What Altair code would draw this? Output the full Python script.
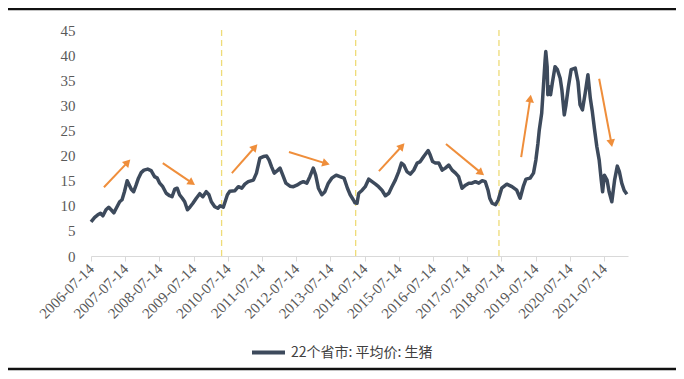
import math
import altair as alt
import pandas as pd

# ---------------- data ----------------
years = [
    2006.532, 2006.64, 2006.73, 2006.81, 2006.88, 2006.97, 2007.05, 2007.12, 2007.20, 2007.27,
    2007.37, 2007.44, 2007.51, 2007.59, 2007.64, 2007.71, 2007.78, 2007.85, 2007.92, 2008.00,
    2008.08, 2008.19, 2008.29, 2008.39, 2008.47, 2008.54, 2008.63, 2008.73, 2008.83, 2008.90,
    2008.98, 2009.05, 2009.12, 2009.20, 2009.27, 2009.35, 2009.42, 2009.51, 2009.61, 2009.71,
    2009.80, 2009.90, 2009.98, 2010.05, 2010.15, 2010.24, 2010.31, 2010.40, 2010.52, 2010.59,
    2010.74, 2010.84, 2010.94, 2011.03, 2011.13, 2011.28, 2011.37, 2011.47, 2011.57, 2011.67,
    2011.74, 2011.81, 2011.89, 2011.98, 2012.06, 2012.14, 2012.23, 2012.35, 2012.45, 2012.55,
    2012.64, 2012.74, 2012.84, 2012.93, 2013.03, 2013.10, 2013.18, 2013.28, 2013.37, 2013.47,
    2013.57, 2013.70, 2013.81, 2013.93, 2014.03, 2014.11, 2014.20, 2014.25, 2014.31, 2014.36,
    2014.46, 2014.55, 2014.65, 2014.75, 2014.85, 2014.94, 2015.04, 2015.14, 2015.24, 2015.33,
    2015.43, 2015.53, 2015.61, 2015.68, 2015.77, 2015.87, 2015.97, 2016.07, 2016.16, 2016.26,
    2016.39, 2016.45, 2016.52, 2016.60, 2016.70, 2016.80, 2016.89, 2016.99, 2017.09, 2017.19,
    2017.28, 2017.38, 2017.48, 2017.58, 2017.67, 2017.77, 2017.87, 2017.97, 2018.06, 2018.14,
    2018.19, 2018.26, 2018.36, 2018.44, 2018.54, 2018.69, 2018.84, 2018.98, 2019.08, 2019.17,
    2019.25, 2019.37, 2019.47, 2019.54, 2019.60, 2019.64, 2019.71, 2019.76, 2019.81, 2019.83,
    2019.87, 2019.89, 2019.93, 2019.97, 2020.02, 2020.10, 2020.17, 2020.25, 2020.30, 2020.37,
    2020.42, 2020.49, 2020.57, 2020.69, 2020.77, 2020.83, 2020.90, 2020.98, 2021.06, 2021.13,
    2021.19, 2021.25, 2021.32, 2021.39, 2021.45, 2021.49, 2021.54, 2021.62, 2021.68, 2021.76,
    2021.84, 2021.92, 2021.98, 2022.05, 2022.12, 2022.20,
]
prices = [
    6.8, 7.7, 8.2, 8.5, 8.0, 9.2, 9.7, 9.2, 8.6, 9.5,
    10.8, 11.2, 12.8, 15.0, 14.3, 13.3, 12.8, 14.1, 15.5, 16.6,
    17.1, 17.3, 17.0, 15.8, 15.5, 14.5, 13.8, 12.5, 12.0, 11.8,
    13.3, 13.5, 12.2, 11.5, 10.8, 9.2, 9.7, 10.5, 11.5, 12.4,
    11.8, 12.8, 12.2, 10.8, 9.8, 9.5, 10.0, 9.7, 12.2, 12.9,
    13.0, 13.8, 13.5, 14.3, 14.8, 15.1, 16.5, 19.5, 19.8, 19.9,
    19.1, 17.8, 16.5, 17.0, 17.5, 16.1, 14.5, 13.9, 13.8, 14.1,
    14.5, 14.8, 14.5, 15.8, 17.5, 16.1, 13.5, 12.2, 12.8, 14.5,
    15.5, 16.1, 15.8, 15.5, 13.5, 12.2, 11.2, 10.6, 10.5, 12.5,
    13.1, 13.8, 15.3, 14.8, 14.3, 13.8, 13.1, 12.0, 12.5, 13.8,
    15.1, 16.8, 18.5, 18.1, 16.8, 16.3, 17.1, 18.5, 18.8, 19.8,
    21.0, 20.1, 18.8, 18.5, 18.5, 17.1, 17.5, 18.1, 17.1, 16.5,
    15.8, 13.5, 14.1, 14.5, 14.5, 14.8, 14.5, 15.0, 14.8, 13.1,
    11.5, 10.5, 10.2, 11.2, 13.5, 14.3, 13.8, 13.1, 11.5, 13.8,
    15.3, 15.5, 16.5, 19.1, 22.4, 25.1, 28.4, 33.7, 39.0, 40.7,
    37.7, 32.1, 33.7, 32.1, 34.4, 37.7, 37.1, 35.4, 33.1, 28.1,
    30.1, 33.7, 37.1, 37.4, 34.7, 30.1, 29.1, 32.4, 36.1, 31.4,
    28.7, 25.4, 21.8, 19.1, 15.1, 12.8, 16.1, 15.1, 12.8, 10.8,
    15.1, 17.9, 16.8, 14.5, 13.1, 12.3,
]
series_name = "22个省市: 平均价: 生猪"

divider_years = [2010.35, 2014.27, 2018.46]

arrow_start_years = [2006.91, 2008.63, 2010.65, 2012.32, 2014.95, 2016.91, 2019.11, 2021.39]
arrow_start_values = [13.7, 18.5, 16.5, 20.7, 16.9, 22.3, 19.7, 35.3]
arrow_end_years = [2007.58, 2009.45, 2011.30, 2013.37, 2015.60, 2017.91, 2019.37, 2021.74]
arrow_end_values = [18.5, 14.7, 21.5, 18.5, 21.7, 16.7, 31.1, 22.7]

tick_years = list(range(2006, 2022))
y_ticks = [0, 5, 10, 15, 20, 25, 30, 35, 40, 45]
x_start_dec = 2006.532
x_end_dec = 2022.233

# ---------------- styling ----------------
W, H = 537, 226
NAVY = "#3D4A5C"
ORANGE = "#EF8E3B"
DIVIDER = "#EEDC78"
LABEL_GREY = "#595959"
AXIS_GREY = "#D9D9D9"


def dec_to_ts(d):
    y = int(d)
    frac = d - y
    start = pd.Timestamp(year=y, month=1, day=1)
    end = pd.Timestamp(year=y + 1, month=1, day=1)
    return start + (end - start) * frac


def ts_str(d):
    return dec_to_ts(d).strftime("%Y-%m-%dT%H:%M:%S")


line_df = pd.DataFrame({
    "date": [ts_str(d) for d in years],
    "price": prices,
    "series": series_name,
})
div_df = pd.DataFrame({"date": [ts_str(d) for d in divider_years]})

px_per_year = W / (x_end_dec - x_start_dec)
px_per_unit = H / 45.0
angles = []
for sx, sy, ex, ey in zip(arrow_start_years, arrow_start_values, arrow_end_years, arrow_end_values):
    a = math.degrees(math.atan2((ex - sx) * px_per_year, (ey - sy) * px_per_unit)) % 360
    angles.append(a)
arrow_df = pd.DataFrame({
    "x0": [ts_str(d) for d in arrow_start_years],
    "y0": arrow_start_values,
    "x1": [ts_str(d) for d in arrow_end_years],
    "y1": arrow_end_values,
    "angle": angles,
})
frame_df = pd.DataFrame({"pos": [-21, 339]})

x_domain = [
    alt.DateTime(year=2006, month=7, date=14),
    alt.DateTime(year=2022, month=3, date=27),
]
x_scale = alt.Scale(domain=x_domain, nice=False)
y_scale = alt.Scale(domain=[0, 45], nice=False, zero=True)

x_axis = alt.Axis(
    values=[alt.DateTime(year=y, month=7, date=14) for y in tick_years],
    format="%Y-%m-%d",
    labelAngle=-45,
    labelAlign="right",
    labelBaseline="middle",
    labelPadding=5,
    labelFont="Liberation Serif",
    labelFontSize=15,
    labelColor=LABEL_GREY,
    labelOverlap=False,
    labelBound=False,
    labelFlush=False,
    domainColor=AXIS_GREY,
    domainWidth=1,
    tickColor=AXIS_GREY,
    tickSize=5,
    grid=False,
    title=None,
)
y_axis = alt.Axis(
    values=y_ticks,
    labelFont="Liberation Serif",
    labelFontSize=15,
    labelColor=LABEL_GREY,
    labelPadding=16,
    domain=False,
    ticks=False,
    grid=False,
    title=None,
)

line = alt.Chart(line_df).mark_line(strokeWidth=3.5, strokeJoin="round").encode(
    x=alt.X("date:T", scale=x_scale, axis=x_axis),
    y=alt.Y("price:Q", scale=y_scale, axis=y_axis),
    color=alt.Color(
        "series:N",
        scale=alt.Scale(domain=[series_name], range=[NAVY]),
        legend=alt.Legend(
            orient="none",
            legendX=159,
            legendY=304,
            title=None,
            symbolType="stroke",
            symbolSize=1089,
            symbolStrokeWidth=4,
            labelFont="Noto Sans CJK SC",
            labelFontSize=14,
            labelColor="#404040",
            labelOffset=4,
        ),
    ),
)

dividers = alt.Chart(div_df).mark_rule(
    color=DIVIDER, strokeWidth=1.3, strokeDash=[6, 4]
).encode(
    x=alt.X("date:T", scale=x_scale, axis=None),
    y=alt.value(0),
    y2=alt.value(H),
)

arrow_lines = alt.Chart(arrow_df).mark_rule(color=ORANGE, strokeWidth=2).encode(
    x=alt.X("x0:T", scale=x_scale, axis=None),
    y=alt.Y("y0:Q", scale=y_scale, axis=None),
    x2="x1:T",
    y2="y1:Q",
)
arrow_heads = alt.Chart(arrow_df).mark_point(
    shape="triangle", filled=True, size=75, color=ORANGE, opacity=1
).encode(
    x=alt.X("x1:T", scale=x_scale, axis=None),
    y=alt.Y("y1:Q", scale=y_scale, axis=None),
    angle=alt.Angle("angle:Q", scale=None),
)

frame = alt.Chart(frame_df).mark_rule(color="#111111", strokeWidth=2.5).encode(
    x=alt.value(-83),
    x2=alt.value(W + 48),
    y=alt.Y("pos:Q", scale=None, axis=None),
)

chart = alt.layer(dividers, line, arrow_lines, arrow_heads, frame).resolve_axis(
    x="independent", y="independent"
).properties(
    width=W,
    height=H,
    autosize=alt.AutoSizeParams(type="none"),
    padding={"left": 83, "top": 22, "right": 48, "bottom": 115},
    background="white",
).configure_view(stroke=None)

chart.save("out.html", embed_options={"renderer": "svg", "actions": False})
